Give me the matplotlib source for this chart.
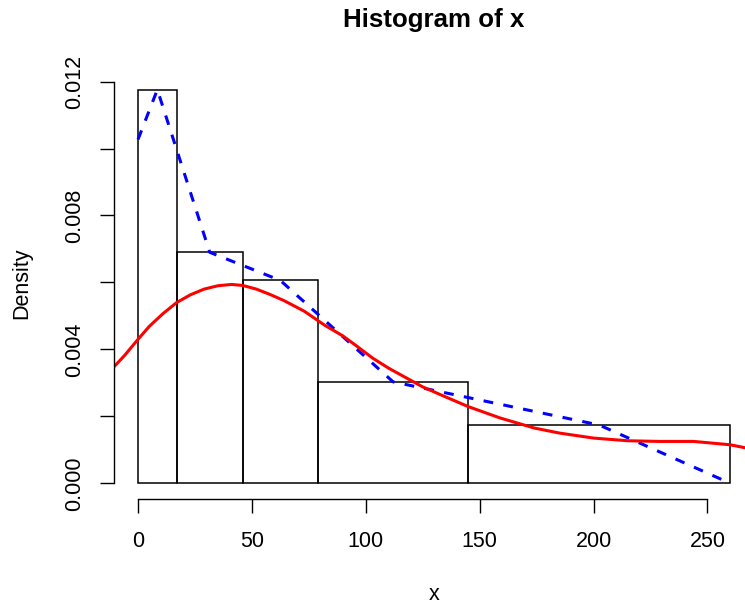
import numpy as np
import matplotlib
matplotlib.use('Agg')
import matplotlib.pyplot as plt

plt.rcParams['font.family'] = ['Liberation Sans', 'DejaVu Sans']

# histogram bins (quintile breaks) and densities
bin_edges = [0, 17, 46, 79, 145, 260]
densities = [0.01176, 0.00690, 0.00606, 0.00303, 0.00174]

# dashed polygon through bin tops
poly_x = [0, 8.5, 31.5, 62.5, 112, 202.5, 260]
poly_y = [0.01027, 0.01176, 0.00690, 0.00606, 0.00303, 0.00174, 0.0]

# kernel density curve
kde_x = [-10.4, -6, 0, 5, 11, 17, 23, 29, 35, 41, 46, 52, 58, 64, 73, 82,
         90, 96, 103, 110, 118, 125, 133, 145, 159, 174, 185, 200, 215,
         229, 244, 260, 271]
kde_y = [0.00349, 0.00381, 0.00430, 0.00469, 0.00507, 0.00540, 0.00563,
         0.00580, 0.00590, 0.00594, 0.00591, 0.00580, 0.00564, 0.00546,
         0.00514, 0.00472, 0.00440, 0.00410, 0.00374, 0.00344, 0.00314,
         0.00288, 0.00264, 0.00229, 0.00195, 0.00165, 0.00150, 0.00135,
         0.00127, 0.00125, 0.00125, 0.00115, 0.00100]

W, H = 745, 605
fig = plt.figure(figsize=(W / 100, H / 100), dpi=100)
ax = fig.add_axes([114.3 / W, (H - 499) / H, (753.9 - 114.3) / W, (499 - 73.9) / H])

lefts = bin_edges[:-1]
widths = np.diff(bin_edges)
ax.bar(lefts, densities, width=widths, align='edge', fill=False,
       edgecolor='black', linewidth=1.1)
ax.plot(poly_x, poly_y, color='#0000FF', linewidth=2.2,
        linestyle=(0, (3.2, 3.4)))
ax.plot(kde_x, kde_y, color='#FF0000', linewidth=2.2)

ax.set_xlim(-10.4, 270.4)
ax.set_ylim(-0.00047, 0.01223)

for s in ['top', 'right']:
    ax.spines[s].set_visible(False)
ax.spines['left'].set_bounds(0, 0.012)
ax.spines['bottom'].set_bounds(0, 250)
for s in ['left', 'bottom']:
    ax.spines[s].set_linewidth(1.0)

ax.set_xticks([0, 50, 100, 150, 200, 250])
ax.set_xticklabels(['0', '50', '100', '150', '200', '250'])
yt = [0, 0.002, 0.004, 0.006, 0.008, 0.010, 0.012]
ax.set_yticks(yt)
ax.set_yticklabels(['0.000', '', '0.004', '', '0.008', '', '0.012'],
                   rotation=90, va='center')
ax.tick_params(axis='both', direction='out', length=9.8, width=1.0,
               labelsize=15.5)
ax.tick_params(axis='x', pad=13.5)
ax.tick_params(axis='y', pad=11.5)

fig.text(434 / W, 1 - 20 / H, 'Histogram of x', ha='center', va='center',
         fontsize=18.6, fontweight='bold')
fig.text(434 / W, 1 - 594 / H, 'x', ha='center', va='center', fontsize=15.5)
fig.text(22 / W, 1 - 283 / H, 'Density', ha='center', va='center',
         rotation=90, fontsize=15.5)

fig.savefig('out.png', dpi=100)
